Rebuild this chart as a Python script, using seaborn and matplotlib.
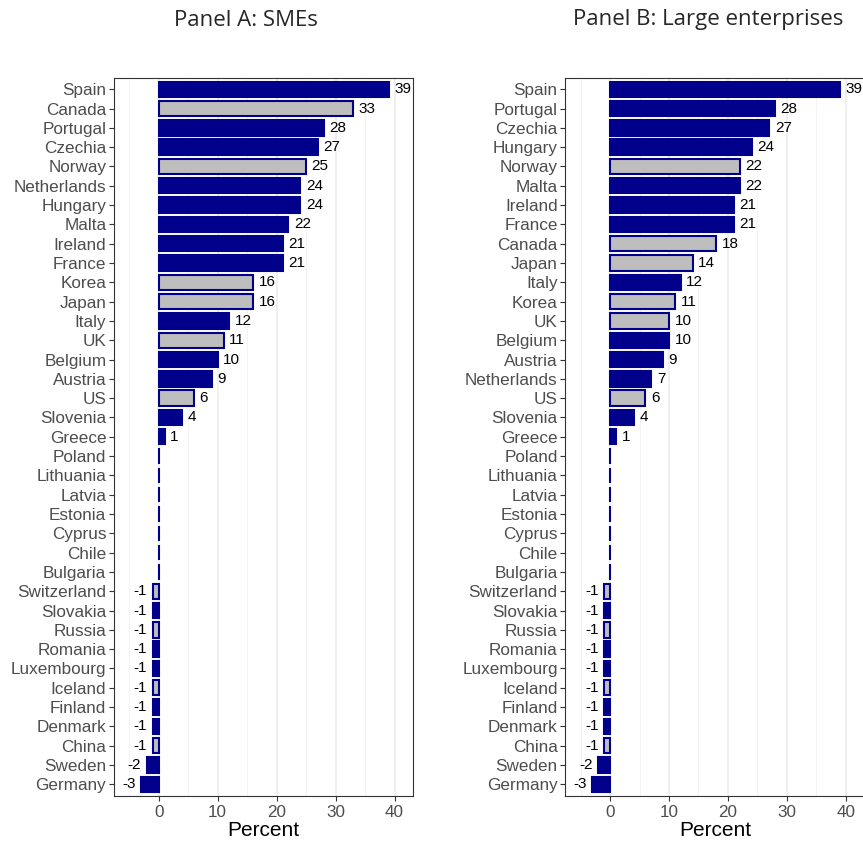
import numpy as np
import pandas as pd
import seaborn as sns
import matplotlib.pyplot as plt

sme_countries = ["Spain", "Canada", "Portugal", "Czechia", "Norway", "Netherlands", "Hungary",
                 "Malta", "Ireland", "France", "Korea", "Japan", "Italy", "UK", "Belgium",
                 "Austria", "US", "Slovenia", "Greece", "Poland", "Lithuania", "Latvia",
                 "Estonia", "Cyprus", "Chile", "Bulgaria", "Switzerland", "Slovakia", "Russia",
                 "Romania", "Luxembourg", "Iceland", "Finland", "Denmark", "China", "Sweden",
                 "Germany"]
sme_values = [39, 33, 28, 27, 25, 24, 24, 22, 21, 21, 16, 16, 12, 11, 10, 9, 6, 4, 1,
              0, 0, 0, 0, 0, 0, 0, -1, -1, -1, -1, -1, -1, -1, -1, -1, -2, -3]

large_countries = ["Spain", "Portugal", "Czechia", "Hungary", "Norway", "Malta", "Ireland",
                   "France", "Canada", "Japan", "Italy", "Korea", "UK", "Belgium", "Austria",
                   "Netherlands", "US", "Slovenia", "Greece", "Poland", "Lithuania", "Latvia",
                   "Estonia", "Cyprus", "Chile", "Bulgaria", "Switzerland", "Slovakia", "Russia",
                   "Romania", "Luxembourg", "Iceland", "Finland", "Denmark", "China", "Sweden",
                   "Germany"]
large_values = [39, 28, 27, 24, 22, 22, 21, 21, 18, 14, 12, 11, 10, 10, 9, 7, 6, 4, 1,
                0, 0, 0, 0, 0, 0, 0, -1, -1, -1, -1, -1, -1, -1, -1, -1, -2, -3]

non_eu = ["Canada", "Norway", "Korea", "Japan", "UK", "US", "Switzerland", "Russia",
          "Iceland", "China", "Chile"]

titles = ["Panel A: SMEs", "Panel B: Large enterprises"]

NAVY = "#00008B"
GREY = "#BEBEBE"

sns.set_style("white")
plt.rcParams['font.family'] = ['Liberation Sans', 'DejaVu Sans']


def draw_panel(ax, countries, values):
    df = pd.DataFrame({"country": countries, "value": values})
    df["group"] = np.where(df["country"].isin(non_eu), "Non-EU", "EU")

    sns.barplot(data=df, x="value", y="country", hue="group", order=countries,
                hue_order=["EU", "Non-EU"], palette={"EU": NAVY, "Non-EU": GREY},
                dodge=False, width=0.8, saturation=1, edgecolor=NAVY, linewidth=1.5,
                legend=False, ax=ax)

    # value labels, skip the zero bars
    for c in ax.containers:
        labels = [f"{int(round(b.get_width()))}" if b.get_width() != 0 else "" for b in c]
        ax.bar_label(c, labels=labels, padding=4, fontsize=11, color="black")

    ax.set_xlim(-7.6, 43.2)
    ax.set_ylim(len(countries) - 0.4, -0.6)
    ax.set_xticks([0, 10, 20, 30, 40])
    ax.set_xticks([-5, 5, 15, 25, 35], minor=True)
    ax.grid(axis="x", which="major", color="#EBEBEB", linewidth=1.1)
    ax.grid(axis="x", which="minor", color="#F2F2F2", linewidth=0.6)
    ax.grid(axis="y", visible=False)
    ax.set_axisbelow(True)

    ax.tick_params(axis="both", which="major", length=3.5, width=0.8, color="#333333",
                   labelcolor="#4D4D4D", labelsize=12.3, pad=2, bottom=True, left=True)
    ax.tick_params(axis="x", which="major", pad=3)
    ax.tick_params(axis="x", which="minor", length=0)
    ax.set_xlabel("Percent", fontsize=15, color="black", labelpad=1)
    ax.set_ylabel("")
    for s in ax.spines.values():
        s.set_visible(True)
        s.set_color("#333333")
        s.set_linewidth(0.8)


fig = plt.figure(figsize=(8.63, 8.44), dpi=100)
ax1 = fig.add_axes([0.132, 0.057, 0.347, 0.851])
ax2 = fig.add_axes([0.655, 0.057, 0.347, 0.851])

draw_panel(ax1, sme_countries, sme_values)
draw_panel(ax2, large_countries, large_values)

fig.text(246 / 863, 1 - 20 / 844, titles[0], ha="center", va="center",
         fontsize=16, family=["Open Sans", "DejaVu Sans"])
fig.text(708 / 863, 1 - 20 / 844, titles[1], ha="center", va="center",
         fontsize=16, family=["Open Sans", "DejaVu Sans"])

fig.savefig("out.png", dpi=100)
